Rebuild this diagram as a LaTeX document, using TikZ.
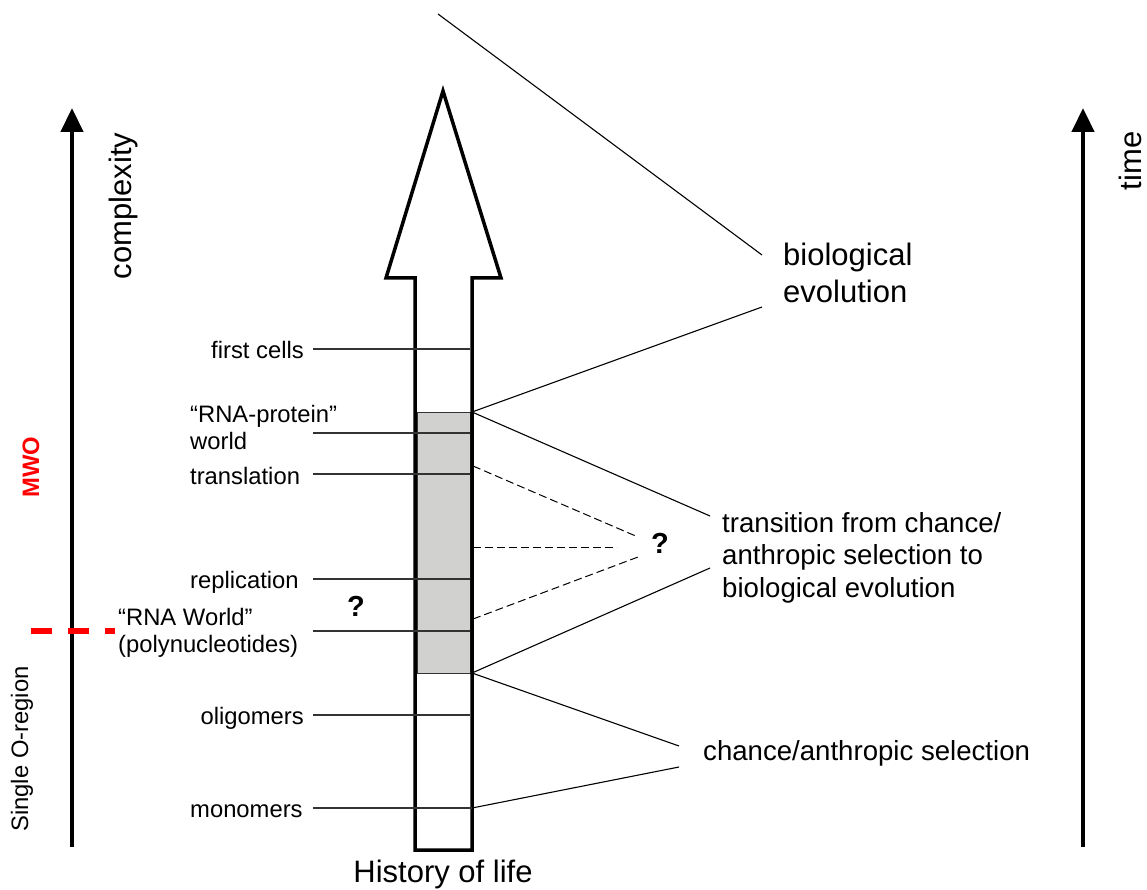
\documentclass[tikz,border=0pt]{standalone}
\usepackage{fontspec}
\setmainfont{Liberation Sans}
\usetikzlibrary{arrows.meta}
\definecolor{boxgray}{RGB}{209,209,207}
\definecolor{mwored}{RGB}{255,0,0}
\begin{document}
\begin{tikzpicture}[x=1pt,y=-1pt,
  small/.style={font=\fontsize{23.8}{27}\selectfont, inner sep=0pt},
  smallml/.style={small, align=left},
  smallbold/.style={font=\fontsize{23.8}{27}\selectfont\bfseries, inner sep=0pt},
  big/.style={font=\fontsize{27.6}{32.5}\selectfont, inner sep=0pt, align=left},
  huge/.style={font=\fontsize{31}{37}\selectfont, inner sep=0pt},
  hugeml/.style={huge, align=left},
  qmark/.style={font=\fontsize{29}{32}\selectfont\bfseries, inner sep=0pt},
  axisarrow/.style={line width=4.5pt, -{Triangle[width=22pt,length=24pt]}},
  conn/.style={line width=1.1pt},
  lblline/.style={line width=1.2pt, black!80},
  dconn/.style={line width=1pt, dash pattern=on 8pt off 4pt},
]
\path[use as bounding box] (0,0) rectangle (1147,890);

% axes
\coordinate (cbot) at (72,847);
\coordinate (ctop) at (72,108);
\draw[axisarrow] (cbot) -- (ctop);
\node[huge, rotate=90] (complexity) at (123,206) {complexity};
\coordinate (tbot) at (1083,847);
\coordinate (ttop) at (1083,108);
\draw[axisarrow] (tbot) -- (ttop);
\node[huge, rotate=90] (time) at (1130,161) {time};

% left annotations
\node[smallbold, text=mwored, rotate=90] (mwo) at (31,467) {MWO};
\node[small, rotate=90] (single) at (22,749) {Single O-region};
\coordinate (rd1) at (31,631);
\coordinate (rd2) at (115,631);
\draw[mwored, line width=6pt, dash pattern=on 21pt off 16pt] (rd1) -- (rd2);

% gray box
\node[draw=black!80, line width=1pt, fill=boxgray, minimum width=53pt,
      minimum height=261pt, inner sep=0pt, anchor=north west] (box) at (417,412) {};

% big arrow
\draw[line width=3.5pt, line join=miter, miter limit=10]
  (415,850) -- (415,278) -- (386,278) -- (443,91) -- (501,278) -- (472,278) -- (472,850) -- cycle;

% stage labels
\node[small, anchor=base east] (fc) at (304,358.5) {first cells};
\node[smallml, anchor=base west] (rnap) at (190,449) {“RNA-protein”\\world};
\node[small, anchor=base west] (tr) at (190,484) {translation};
\node[small, anchor=base west] (rep) at (190,588.5) {replication};
\node[smallml, anchor=base west] (rnaw) at (118,652) {“RNA World”\\(polynucleotides)};
\node[small, anchor=base east] (oli) at (304,724.5) {oligomers};
\node[small, anchor=base west] (mono) at (190,817.5) {monomers};

\coordinate (fcL) at (313,349);   \coordinate (fcR) at (470,349);
\coordinate (rnapL) at (313,433); \coordinate (rnapR) at (470,433);
\coordinate (trL) at (313,474);   \coordinate (trR) at (470,474);
\coordinate (repL) at (313,579);  \coordinate (repR) at (470,579);
\coordinate (rnawL) at (313,631); \coordinate (rnawR) at (470,631);
\coordinate (oliL) at (313,715);  \coordinate (oliR) at (470,715);
\coordinate (monoL) at (313,808); \coordinate (monoR) at (472,808);
\draw[lblline] (fcL) -- (fcR);
\draw[lblline] (rnapL) -- (rnapR);
\draw[lblline] (trL) -- (trR);
\draw[lblline] (repL) -- (repR);
\draw[lblline] (rnawL) -- (rnawR);
\draw[lblline] (oliL) -- (oliR);
\draw[lblline] (monoL) -- (monoR);

\node[qmark] (q1) at (356,606) {?};
\node[qmark] (q2) at (660,543) {?};

% right labels
\node[hugeml, anchor=base west] (bio) at (783,302) {biological\\evolution};
\node[big, anchor=base west] (trans) at (722,597) {transition from chance/\\anthropic selection to\\biological evolution};
\node[big, anchor=base west] (chance) at (703,760) {chance/anthropic selection};
\node[huge, anchor=base] (hist) at (443,882) {History of life};

% connectors
\coordinate (boxTR) at (472,412);
\coordinate (boxBR) at (472,673);
\coordinate (topfree) at (438,14);
\coordinate (bioA) at (762,255);
\coordinate (bioB) at (762,307);
\coordinate (trA) at (710,516);
\coordinate (trB) at (710,568);
\coordinate (chA) at (679,746);
\coordinate (chB) at (679,767);
\draw[conn] (topfree) -- (bioA);
\draw[conn] (boxTR) -- (bioB);
\draw[conn] (boxTR) -- (trA);
\draw[conn] (boxBR) -- (trB);
\draw[conn] (boxBR) -- (chA);
\draw[conn] (monoR) -- (chB);

% dashed connectors to question mark
\coordinate (d1s) at (473,466); \coordinate (d1e) at (638,537);
\coordinate (d2s) at (473,547); \coordinate (d2e) at (617,547);
\coordinate (d3s) at (473,619); \coordinate (d3e) at (638,557);
\draw[dconn] (d1s) -- (d1e);
\draw[dconn] (d2s) -- (d2e);
\draw[dconn] (d3s) -- (d3e);
\end{tikzpicture}
\end{document}
